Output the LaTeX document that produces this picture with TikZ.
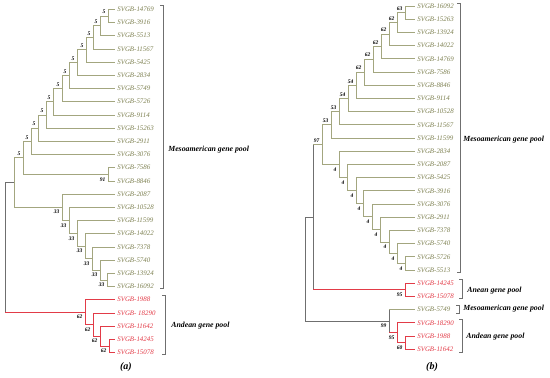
\documentclass[tikz,border=0pt]{standalone}
\usepackage{fontspec}
\setmainfont{Liberation Serif}
\usepackage{tikz}
\usetikzlibrary{positioning, calc}
\definecolor{LeafOlive}{HTML}{7E8152}
\definecolor{BranchOlive}{HTML}{A3A67F}
\definecolor{CladeRed}{HTML}{E23B47}
\definecolor{TrunkGray}{HTML}{6F6F6F}

\begin{document}
\begin{tikzpicture}[x=1pt, y=-1pt, line width=0.7pt,
    leaf/.style={anchor=west, inner sep=2pt, font=\fontsize{6.9}{7}\selectfont\itshape, text=LeafOlive},
    boot/.style={inner sep=0.3pt, font=\fontsize{5.5}{6}\selectfont\bfseries\itshape},
    bootup/.style={boot, anchor=south east, xshift=-2pt, yshift=1.5pt},
    bootdown/.style={boot, anchor=north east, xshift=-2pt, yshift=-2.5pt},
    meso/.style={draw=BranchOlive},
    andes/.style={draw=CladeRed},
    trunk/.style={draw=TrunkGray},
    pool/.style={anchor=west, inner sep=0pt, font=\fontsize{7.8}{9}\selectfont\bfseries\itshape},
    bracket/.style={draw=TrunkGray, line width=0.6pt},
    panel/.style={font=\fontsize{10}{12}\selectfont\bfseries\itshape}]

\useasboundingbox (0,0) rectangle (550,378);

% Leaves (a)
\foreach \id [count=\i from 0] in {14769,3916,5513,11567,5425,2834,5749,5726,9114,15263,2911,3076,7586,8846,2087,10528,11599,14022,7378,5740,13924,16092}
    \node (a\id) [leaf] at (115,{9.3+13.2*\i}) {SVGB-\id};
\node (a1988) [leaf, text=CladeRed] at (115,299.7) {SVGB-1988};
\node (a18290) [leaf, text=CladeRed] at (115,312.9) {SVGB-\ 18290};
\node (a11642) [leaf, text=CladeRed] at (115,326.1) {SVGB-11642};
\node (a14245) [leaf, text=CladeRed] at (115,339.3) {SVGB-14245};
\node (a15078) [leaf, text=CladeRed] at (115,352.5) {SVGB-15078};

% Inner nodes (a)
\coordinate (au1) at (108,15.9);
\coordinate (au2) at (100,25.8);
\coordinate (au3) at (93,37.35);
\coordinate (au4) at (86,49.7);
\coordinate (au5) at (77,62.5);
\coordinate (au6) at (69,75.5);
\coordinate (au7) at (62,88.6);
\coordinate (au8) at (53,101.75);
\coordinate (au9) at (46,114.9);
\coordinate (au10) at (38,128.1);
\coordinate (au11) at (31,141.3);
\coordinate (ac1) at (108,174.3);
\coordinate (au12) at (23,157.8);
\coordinate (al7) at (107,279.9);
\coordinate (al6) at (100,270);
\coordinate (al5) at (92,258.45);
\coordinate (al4) at (85,246.1);
\coordinate (al3) at (77,233.3);
\coordinate (al2) at (69,220.3);
\coordinate (al1) at (62,207.2);
\coordinate (am0) at (14,182.5);
\coordinate (ar4) at (109,345.9);
\coordinate (ar3) at (100,336);
\coordinate (ar2) at (93,324.45);
\coordinate (ar1) at (85,312.1);
\coordinate (aroot) at (5,247.3);

% Paths (a)
\foreach \p/\c in {au1/a14769, au1/a3916, au2/au1, au2/a5513, au3/au2, au3/a11567, au4/au3, au4/a5425,
    au5/au4, au5/a2834, au6/au5, au6/a5749, au7/au6, au7/a5726, au8/au7, au8/a9114, au9/au8, au9/a15263,
    au10/au9, au10/a2911, au11/au10, au11/a3076, ac1/a7586, ac1/a8846, au12/au11, au12/ac1,
    al7/a13924, al7/a16092, al6/a5740, al6/al7, al5/a7378, al5/al6, al4/a14022, al4/al5,
    al3/a11599, al3/al4, al2/a10528, al2/al3, al1/a2087, al1/al2, am0/au12, am0/al1}
    \draw[meso] (\p) |- (\c);
\foreach \p/\c in {ar4/a14245, ar4/a15078, ar3/a11642, ar3/ar4, ar2/a18290, ar2/ar3, ar1/a1988, ar1/ar2}
    \draw[andes] (\p) |- (\c);
\draw[trunk] (aroot |- am0) -- (aroot |- ar1);
\draw[trunk] (aroot |- am0) -- (am0);
\draw[andes] (aroot |- ar1) -- (ar1);

% Bootstrap values (a)
\foreach \n in {au1,au2,au3,au4,au5,au6,au7,au8,au9,au10,au11,au12}
    \node (l\n) [bootup] at (\n) {5};
\node (lac1) [bootdown] at (ac1) {91};
\foreach \n in {al1,al2,al3,al4,al5,al6,al7}
    \node (l\n) [bootdown] at (\n) {33};
\foreach \n in {ar1,ar2,ar3,ar4}
    \node (l\n) [bootdown] at (\n) {62};

% Groups (a)
\draw[bracket] (160,5) -- (163,5) -- (163,288) -- (160,288);
\draw[bracket] (162,295) -- (165,295) -- (165,354) -- (162,354);
\node (ameso) [pool] at (168,150) {Mesoamerican gene pool};
\node (aandes) [pool] at (171,326) {Andean gene pool};
\node (pa) [panel] at (126,367) {(a)};

% Leaves (b)
\foreach \id/\col [count=\j from 0] in {16092/LeafOlive, 15263/LeafOlive, 13924/LeafOlive, 14022/LeafOlive,
    14769/LeafOlive, 7586/LeafOlive, 8846/LeafOlive, 9114/LeafOlive, 10528/LeafOlive, 11567/LeafOlive,
    11599/LeafOlive, 2834/LeafOlive, 2087/LeafOlive, 5425/LeafOlive, 3916/LeafOlive, 3076/LeafOlive,
    2911/LeafOlive, 7378/LeafOlive, 5740/LeafOlive, 5726/LeafOlive, 5513/LeafOlive, 14245/CladeRed,
    15078/CladeRed, 5749/LeafOlive, 18290/CladeRed, 1988/CladeRed, 11642/CladeRed}
    \node (b\id) [leaf, text=\col] at (415,{6+13.2*\j}) {SVGB-\id};

% Inner nodes (b)
\coordinate (bt1) at (405,12.6);
\coordinate (bt2) at (397,22.5);
\coordinate (bt3) at (389,34.05);
\coordinate (bt4) at (381,46.4);
\coordinate (bt5) at (373,59.2);
\coordinate (bt6) at (364,72.2);
\coordinate (bt7) at (356,85.3);
\coordinate (bt8) at (348,98.45);
\coordinate (bt9) at (339,111.6);
\coordinate (bt10) at (331,124.8);
\coordinate (bs9) at (405,263.4);
\coordinate (bs8) at (397,253.5);
\coordinate (bs7) at (389,241.95);
\coordinate (bs6) at (380,229.6);
\coordinate (bs5) at (372,216.8);
\coordinate (bs4) at (363,203.8);
\coordinate (bs3) at (356,190.7);
\coordinate (bs2) at (347,177.55);
\coordinate (bs1) at (339,164.4);
\coordinate (bmb) at (322,144.6);
\coordinate (ban) at (405,289.8);
\coordinate (bq1) at (313,217.2);
\coordinate (bq4) at (405,342.6);
\coordinate (bq3) at (397,332.7);
\coordinate (bq2) at (389,321.15);
\coordinate (broot) at (305,269.2);

% Paths (b)
\foreach \p/\c in {bt1/b16092, bt1/b15263, bt2/bt1, bt2/b13924, bt3/bt2, bt3/b14022, bt4/bt3, bt4/b14769,
    bt5/bt4, bt5/b7586, bt6/bt5, bt6/b8846, bt7/bt6, bt7/b9114, bt8/bt7, bt8/b10528, bt9/bt8, bt9/b11567,
    bt10/bt9, bt10/b11599, bs1/b2834, bs1/bs2, bs2/b2087, bs2/bs3, bs3/b5425, bs3/bs4, bs4/b3916, bs4/bs5,
    bs5/b3076, bs5/bs6, bs6/b2911, bs6/bs7, bs7/b7378, bs7/bs8, bs8/b5740, bs8/bs9, bs9/b5726, bs9/b5513,
    bmb/bt10, bmb/bs1}
    \draw[meso] (\p) |- (\c);
\foreach \p/\c in {ban/b14245, ban/b15078, bq3/b18290, bq3/bq4, bq4/b1988, bq4/b11642}
    \draw[andes] (\p) |- (\c);
\draw[trunk] (broot |- bq1) -- (broot |- bq2);
\draw[trunk] (broot |- bq1) -- (bq1);
\draw[trunk] (broot |- bq2) -- (bq2);
\draw[trunk] (bq1 |- bmb) -- (bq1 |- ban);
\draw[meso] (bq1 |- bmb) -- (bmb);
\draw[andes] (bq1 |- ban) -- (ban);
\draw[trunk] (bq2 |- b5749) -- (bq2 |- bq3);
\draw[meso] (bq2 |- b5749) -- (b5749);
\draw[andes] (bq2 |- bq3) -- (bq3);

% Bootstrap values (b)
\foreach \n/\v in {bt1/63, bt2/62, bt3/62, bt4/62, bt5/62, bt6/62, bt7/54, bt8/54, bt9/53, bt10/53, bmb/97}
    \node (l\n) [bootup] at (\n) {\v};
\foreach \n in {bs1,bs2,bs3,bs4,bs5,bs6,bs7,bs8,bs9}
    \node (l\n) [bootdown] at (\n) {4};
\foreach \n/\v in {ban/95, bq2/99, bq3/95, bq4/60}
    \node (l\n) [bootdown] at (\n) {\v};

% Groups (b)
\draw[bracket] (457,3) -- (460,3) -- (460,272) -- (457,272);
\draw[bracket] (459,279) -- (462,279) -- (462,298) -- (459,298);
\draw[bracket] (456,305) -- (459,305) -- (459,313) -- (456,313);
\draw[bracket] (459,319) -- (462,319) -- (462,352) -- (459,352);
\node (bmeso) [pool] at (463,140) {Mesoamerican gene pool};
\node (banean) [pool] at (467,291) {Anean gene pool};
\node (bmeso2) [pool] at (463,309) {Mesoamerican gene pool};
\node (bandes) [pool] at (466,337) {Andean gene pool};
\node (pb) [panel] at (432,367) {(b)};
\end{tikzpicture}
\end{document}
